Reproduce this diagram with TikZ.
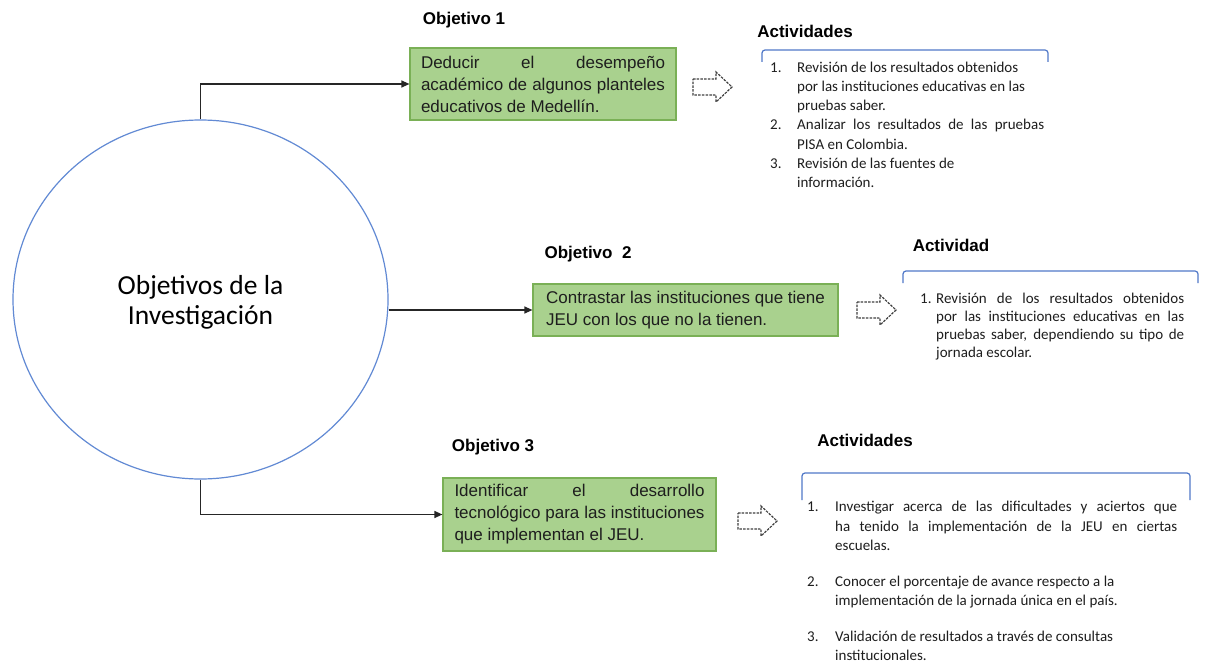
\documentclass[tikz,border=0pt]{standalone}
\usepackage{fontspec}
\setmainfont{Liberation Sans}
\newfontfamily\calfont{Carlito}
\usetikzlibrary{shapes.geometric,arrows.meta}
\definecolor{boxfill}{RGB}{169,209,142}
\definecolor{boxline}{RGB}{122,176,86}
\definecolor{circline}{RGB}{98,138,212}
\definecolor{brkcol}{RGB}{80,120,200}
\definecolor{txt}{RGB}{30,30,30}
\newlength{\hangw}
\newcommand{\litem}[2]{\par\hangindent=\hangw\hangafter=1\noindent\makebox[\hangw][l]{#1}#2\par}
\newcommand{\ritem}[2]{{\rightskip=0pt plus 1fil\relax\litem{#1}{#2}}}
\tikzset{
  obox/.style={draw=boxline, line width=1.2pt, fill=boxfill, inner xsep=11pt, inner ysep=0pt,
    align=justify, font=\fontsize{17}{22}\selectfont, text=txt},
  conn/.style={draw=black!85, line width=1.2pt, -{Triangle[length=8pt,width=7pt]}},
  hdr/.style={font=\bfseries\fontsize{17}{20}\selectfont, inner sep=0pt, text=black},
  lst/.style={inner sep=0pt, anchor=north west, align=justify, text=txt},
  brkline/.style={draw=brkcol, line width=1.2pt, rounded corners=3pt},
  harrowline/.style={draw=black!75, line width=1.2pt, dash pattern=on 2.5pt off 1.2pt},
  hollowarrow/.pic={\path[harrowline] (-19,-8) -- (4,-8) -- (4,-15) -- (20,0) -- (4,15) -- (4,8) -- (-19,8) -- cycle;}
}
\begin{document}
\begin{tikzpicture}[x=1pt,y=-1pt]
\useasboundingbox (0,0) rectangle (1206,666);
\fill[white] (0,0) rectangle (1206,666);

% central ellipse
\node[draw=circline, line width=1.2pt, ellipse, minimum width=375pt, minimum height=359pt,
  inner sep=0pt] (circ) at (200.5,299.5) {};
\node[inner sep=0pt, align=center, font=\calfont\fontsize{27.5}{30}\selectfont, text=black]
  (circt) at (200.5,302.5) {Objetivos de la\\Investigación};

% objective boxes
\node[obox, text width=244pt, minimum height=72pt] (b1) at (543,84)
  {Deducir el desempeño\linebreak académico de algunos planteles\linebreak educativos de Medellín.};
\node[obox, align=left, minimum width=305pt, minimum height=52pt] (b2) at (685.5,310)
  {Contrastar las instituciones que tiene\\JEU con los que no la tienen.};
\node[obox, text width=250pt, inner xsep=11.5pt, minimum height=73pt] (b3) at (579.5,514.5)
  {Identificar el desarrollo\linebreak tecnológico para las instituciones\linebreak que implementan el JEU.};

% headers
\node[hdr] (h1) at (464,20) {Objetivo 1};
\node[hdr] (h2) at (588,254) {Objetivo\ \ 2};
\node[hdr] (h3) at (493,447) {Objetivo 3};
\node[hdr] (a1h) at (805,31) {Actividades};
\node[hdr] (a2h) at (951,245) {Actividad};
\node[hdr] (a3h) at (865,440) {Actividades};

% connectors
\draw[conn] (circ.north) |- (b1.west);
\draw[conn] (circ.east |- b2.west) -- (b2.west);
\draw[conn] (circ.south) |- (b3.west);

% hollow dashed arrows
\pic (ar1) at (712,87) {hollowarrow};
\pic (ar2) at (876,310) {hollowarrow};
\pic (ar3) at (757,521) {hollowarrow};

% brackets
\draw[brkline] (762,62) -- (762,50) -- (1048,50) -- (1048,62);
\draw[brkline] (903,283) -- (903,271) -- (1198,271) -- (1198,283);
\draw[brkline] (802,500) -- (802,473) -- (1190,473) -- (1190,500);

% lists
\node[lst, text width=274pt, font=\calfont\fontsize{15}{19.2}\selectfont] (l1) at (770,53)
  {\setlength{\hangw}{27pt}%
   \ritem{1.}{Revisión de los resultados obtenidos\linebreak por las instituciones educativas en las\linebreak pruebas saber.}%
   \litem{2.}{Analizar los resultados de las pruebas\linebreak PISA en Colombia.}%
   \ritem{3.}{Revisión de las fuentes de\linebreak información.}};
\node[lst, text width=264pt, font=\calfont\fontsize{15}{18}\selectfont] (l2) at (920,285)
  {\setlength{\hangw}{16pt}%
   \litem{1.}{Revisión de los resultados obtenidos\linebreak por las instituciones educativas en las\linebreak pruebas saber, dependiendo su tipo de\linebreak jornada escolar.}};
\node[lst, text width=370pt, font=\calfont\fontsize{15}{19.5}\selectfont] (l3) at (807,492)
  {\setlength{\hangw}{28pt}%
   \litem{1.}{Investigar acerca de las dificultades y aciertos que\linebreak ha tenido la implementación de la JEU en ciertas\linebreak escuelas.}%
   \vskip 16pt
   \ritem{2.}{Conocer el porcentaje de avance respecto a la\linebreak implementación de la jornada única en el país.}%
   \vskip 16pt
   \ritem{3.}{Validación de resultados a través de consultas\linebreak institucionales.}};
\end{tikzpicture}
\end{document}
